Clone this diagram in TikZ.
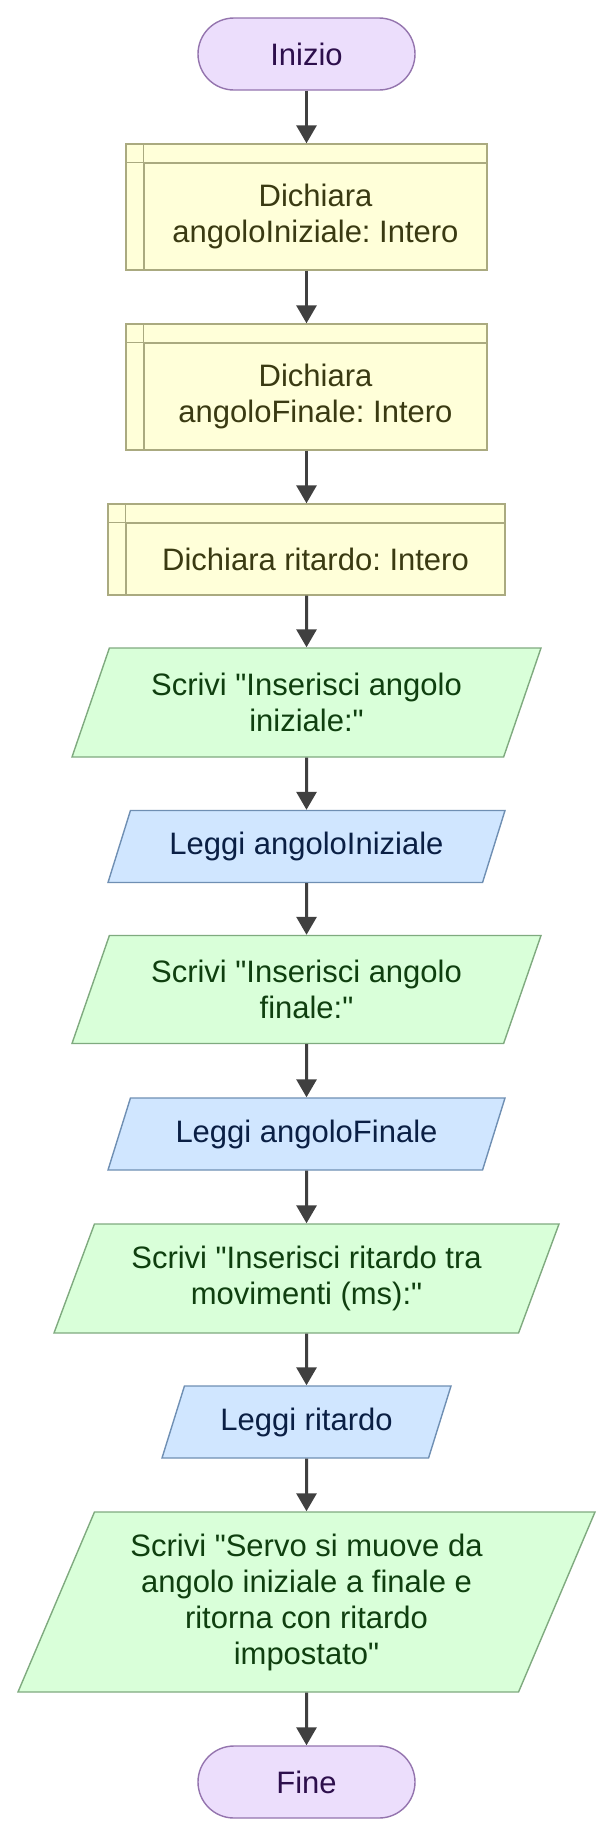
\documentclass[tikz,border=0pt]{standalone}
\usepackage{fontspec}
\setmainfont{Liberation Sans}[Ligatures=TeXOff]
\usepackage{tikz}
\usetikzlibrary{shapes.geometric,arrows.meta}
\frenchspacing

\definecolor{termfill}{HTML}{ECDEFC}
\definecolor{termline}{HTML}{9474AE}
\definecolor{termtext}{HTML}{2D0F4C}
\definecolor{declfill}{HTML}{FFFFD9}
\definecolor{declline}{HTML}{AAAA80}
\definecolor{decltext}{HTML}{3A3A12}
\definecolor{scrfill}{HTML}{D9FFD9}
\definecolor{scrline}{HTML}{7FAA7F}
\definecolor{scrtext}{HTML}{0F3F0F}
\definecolor{legfill}{HTML}{D0E6FF}
\definecolor{legline}{HTML}{6F8FB3}
\definecolor{legtext}{HTML}{0A1F44}
\definecolor{flowgrey}{HTML}{404040}

\begin{document}
\begin{tikzpicture}[x=0.5pt, y=-0.5pt, >={Triangle[width=10pt,length=9pt]},
	font=\fontsize{15.5}{18}\selectfont,
	terminal/.style={draw=termline, fill=termfill, text=termtext, line width=0.7pt,
		rounded corners=18pt, minimum width=108.5pt, minimum height=36pt},
	declframe/.style={draw=declline, fill=declfill, line width=0.7pt},
	declbody/.style={draw=declline, text=decltext, line width=0.7pt, align=center,
		anchor=south east},
	para/.style={trapezium, trapezium left angle=63.43, trapezium right angle=116.57,
		trapezium stretches body, line width=0.7pt, align=center,
		inner xsep=4pt, inner ysep=4pt},
	scrivi/.style={para, draw=scrline, fill=scrfill, text=scrtext},
	leggi/.style={para, draw=legline, fill=legfill, text=legtext},
	flow/.style={->, draw=flowgrey, line width=1.5pt}]

	\useasboundingbox (0,0) rectangle (613,1837);

	% start
	\node[terminal] (start) at (306.5,54) {Inizio};

	% declarations
	\node[declframe, minimum width=180.5pt, minimum height=63pt] (decl1) at (306.5,207) {};
	\node[declbody, minimum width=171.5pt, minimum height=53.5pt] (decl1-txt) at (decl1.south east)
	{Dichiara\\angoloIniziale: Intero};

	\node[declframe, minimum width=180.5pt, minimum height=63pt] (decl2) at (306.5,387) {};
	\node[declbody, minimum width=171.5pt, minimum height=53.5pt] (decl2-txt) at (decl2.south east)
	{Dichiara\\angoloFinale: Intero};

	\node[declframe, minimum width=198.5pt, minimum height=45.5pt] (decl3) at (306.5,549.5) {};
	\node[declbody, minimum width=189.5pt, minimum height=36pt] (decl3-txt) at (decl3.south east)
	{Dichiara ritardo: Intero};

	\foreach \n in {decl1,decl2,decl3}
	\draw[declline, line width=0.7pt] (\n.north -| \n-txt.west) -- (\n-txt.north west)
	-- (\n.west |- \n-txt.north);

	% input / output
	\node[scrivi, minimum width=234.5pt, minimum height=54.5pt] (out1) at (306.5,702.5)
	{Scrivi "Inserisci angolo\\iniziale:"};
	\node[leggi, minimum width=198.5pt, minimum height=36pt] (in1) at (306.5,846.5)
	{Leggi angoloIniziale};
	\node[scrivi, minimum width=234.5pt, minimum height=54pt] (out2) at (306.5,989.5)
	{Scrivi "Inserisci angolo\\finale:"};
	\node[leggi, minimum width=198.5pt, minimum height=36pt] (in2) at (306.5,1134)
	{Leggi angoloFinale};
	\node[scrivi, minimum width=252.5pt, minimum height=54.5pt] (out3) at (306.5,1278.5)
	{Scrivi "Inserisci ritardo tra\\movimenti (ms):"};
	\node[leggi, minimum width=144.5pt, minimum height=36pt] (in3) at (306.5,1422)
	{Leggi ritardo};
	\node[scrivi, minimum width=288.5pt, minimum height=90pt] (out4) at (306.5,1602)
	{Scrivi "Servo si muove da\\angolo iniziale a finale e\\ritorna con ritardo\\impostato"};

	% end
	\node[terminal] (end) at (306.5,1782) {Fine};

	% connectors
	\draw[flow] (start) -- (decl1);
	\draw[flow] (decl1) -- (decl2);
	\draw[flow] (decl2) -- (decl3);
	\draw[flow] (decl3) -- (out1);
	\draw[flow] (out1) -- (in1);
	\draw[flow] (in1) -- (out2);
	\draw[flow] (out2) -- (in2);
	\draw[flow] (in2) -- (out3);
	\draw[flow] (out3) -- (in3);
	\draw[flow] (in3) -- (out4);
	\draw[flow] (out4) -- (end);

\end{tikzpicture}
\end{document}
